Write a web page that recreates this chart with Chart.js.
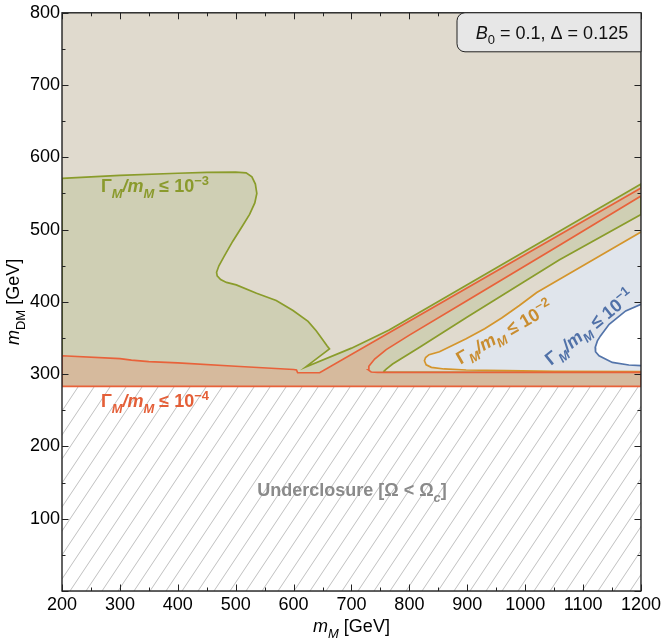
<!DOCTYPE html>
<html>
<head>
<meta charset="utf-8">
<script src="https://cdn.jsdelivr.net/npm/chart.js@4.4.1/dist/chart.umd.min.js"></script>
<style>
  html, body { margin: 0; padding: 0; background: #fff; }
</style>
</head>
<body>
<canvas id="plot" width="664" height="644"></canvas>
<script>
// contours, points are [m_M, m_DM] in GeV
var underclosure = 283;
var redFloor = 302.5;
var redLeft = [[200, 325.5], [300, 321.5], [320, 319.5], [350, 317.5], [400, 315.5], [500, 311], [600, 306.5], [605, 305.8], [607, 302], [645, 302]];
var redOuter = [[645, 302], [765, 357.3], [1200, 557.7]];
var redInner = [[745, 302.5], [734, 303], [729, 306], [730, 311], [740, 321], [760, 334], [800, 354], [900, 402], [1058.6, 478], [1200, 546.6]];
var greenBlob = [[200, 571], [300, 575], [400, 578], [450, 579.3], [500, 579.5], [518, 578.5], [528, 573], [534, 563], [536.5, 550], [533, 537], [524, 521], [510, 503], [495, 484], [480, 463], [471, 450], [467, 441], [468, 436], [474, 431], [484, 427], [501, 423.5], [536, 412], [570, 402], [599, 388], [625, 373], [639, 360], [650, 348], [658, 339], [662, 335]];
var greenOuter = [[621, 310], [700, 336], [765, 361], [1200, 563]];
var greenInner = [[1200, 521], [1058.6, 458], [900, 379], [817, 337], [771, 314], [760, 307], [756, 304], [758, 302.5]];
var orangeUpper = [[826, 318.5], [828, 323], [834, 327], [852, 331], [875, 340], [898, 349], [930, 363], [960, 378], [990, 395], [1020, 413], [1058.6, 431], [1136, 467], [1200, 496.6]];
var orangeLower = [[826, 318.5], [829, 313], [838, 309.5], [860, 307.2], [898, 305.8], [967, 305], [1050, 304], [1200, 303.5]];
var blueCurve = [[1200, 396.8], [1173.6, 387.6], [1145, 369], [1130, 353], [1124.7, 346], [1121, 337], [1121.5, 331], [1127.6, 325.5], [1150.5, 316.3], [1179, 312.7], [1200, 311.7]];

var xTicks = [200, 1200, 100];
var yTicks = [0, 800, 100];

function pts(list) {
  return list.map(function (p) { return {x: p[0], y: p[1]}; });
}
function rev(list) { return list.slice().reverse(); }

var hatchShape = [[200, 0], [200, underclosure], [1200, underclosure], [1200, 0]];
var tanShape = [[200, underclosure], [200, 800], [1200, 800], [1200, underclosure]];
var greenShape = [[200, underclosure]].concat(greenBlob, greenOuter, greenInner, [[1200, redFloor], [1200, underclosure]]);
var redShape = rev(redOuter).concat(rev(redLeft), [[200, underclosure], [1200, underclosure], [1200, redFloor]], redInner);
var orangeShape = rev(orangeUpper).concat(orangeLower.slice(1));
var blueShape = blueCurve;

function hatch() {
  var c = document.createElement('canvas');
  c.width = 16; c.height = 24;
  var g = c.getContext('2d');
  g.fillStyle = '#fff';
  g.fillRect(0, 0, 16, 24);
  g.strokeStyle = '#b0b0b0';
  g.lineWidth = 0.8;
  g.beginPath();
  g.moveTo(0, 24); g.lineTo(16, 0);
  g.moveTo(-2, 3); g.lineTo(2, -3);
  g.moveTo(14, 27); g.lineTo(18, 21);
  g.stroke();
  return g.createPattern(c, 'repeat');
}

var FAM = '"Liberation Sans", Arial, sans-serif';
var FS = 18;

// draw text pieces with italics, sub- and superscripts
function rich(ctx, parts, x, y, size, color, bold, angle) {
  var w = 0, fonts = [];
  parts.forEach(function (p) {
    var st = p[1] || {};
    var s = (st.s || st.p) ? size * 0.72 : size;
    var f = (st.i ? 'italic ' : '') + (bold ? 'bold ' : '') + s + 'px ' + FAM;
    ctx.font = f;
    var pw = ctx.measureText(p[0]).width;
    fonts.push({f: f, w: pw, dy: st.s ? size * 0.28 : (st.p ? -size * 0.42 : 0)});
    w += pw;
  });
  ctx.save();
  ctx.translate(x, y);
  ctx.rotate((angle || 0) * Math.PI / 180);
  ctx.fillStyle = color;
  ctx.textBaseline = 'alphabetic';
  ctx.textAlign = 'left';
  var cx = -w / 2;
  parts.forEach(function (p, k) {
    ctx.font = fonts[k].f;
    ctx.fillText(p[0], cx, size * 0.36 + fonts[k].dy);
    cx += fonts[k].w;
  });
  ctx.restore();
}

function gammaLabel(exp) {
  return [['Γ'], ['M', {i: 1, s: 1}], ['/', {i: 1}], ['m', {i: 1}], ['M', {i: 1, s: 1}], [' ≤ 10'], ['−' + exp, {p: 1}]];
}

var decor = {
  id: 'decor',
  afterDraw: function (chart) {
    var ctx = chart.ctx, a = chart.chartArea, sx = chart.scales.x, sy = chart.scales.y;
    ctx.save();
    ctx.strokeStyle = '#222';
    ctx.lineWidth = 1;
    ctx.beginPath();
    var v, p, len;
    for (v = xTicks[0]; v <= xTicks[1]; v += xTicks[2] / 2) {
      p = Math.round(sx.getPixelForValue(v)) + 0.5;
      len = (v % xTicks[2]) ? 3.5 : 6.5;
      ctx.moveTo(p, a.bottom); ctx.lineTo(p, a.bottom - len);
      ctx.moveTo(p, a.top); ctx.lineTo(p, a.top + len);
    }
    for (v = yTicks[0]; v <= yTicks[1]; v += yTicks[2] / 2) {
      p = Math.round(sy.getPixelForValue(v)) + 0.5;
      len = (v % yTicks[2]) ? 3.5 : 6.5;
      ctx.moveTo(a.left, p); ctx.lineTo(a.left + len, p);
      ctx.moveTo(a.right, p); ctx.lineTo(a.right - len, p);
    }
    ctx.stroke();
    ctx.lineWidth = 1.4;
    ctx.strokeRect(a.left, a.top, a.right - a.left, a.bottom - a.top);

    // parameter box
    var bx = 457, by = a.top, bw = a.right - 457, bh = 39, r = 8;
    ctx.beginPath();
    ctx.moveTo(bx + r, by);
    ctx.lineTo(bx + bw, by);
    ctx.lineTo(bx + bw, by + bh);
    ctx.lineTo(bx + r, by + bh);
    ctx.arcTo(bx, by + bh, bx, by + bh - r, r);
    ctx.lineTo(bx, by + r);
    ctx.arcTo(bx, by, bx + r, by, r);
    ctx.closePath();
    ctx.fillStyle = '#e7e7e7';
    ctx.fill();
    ctx.lineWidth = 1;
    ctx.strokeStyle = '#222';
    ctx.stroke();
    ctx.restore();

    rich(ctx, [['B', {i: 1}], ['0', {s: 1}], [' = 0.1, Δ = 0.125']], 552, by + 20, FS, '#111', false, 0);

    rich(ctx, gammaLabel('3'), 155, 186, FS, '#8a9a2c', true, 0);
    rich(ctx, gammaLabel('4'), 155, 401, FS, '#e45f38', true, 0);
    rich(ctx, gammaLabel('2'), 504, 332, FS, '#c98d30', true, -30);
    rich(ctx, gammaLabel('1'), 589, 327, FS, '#5071a8', true, -39);
    rich(ctx, [['Underclosure [Ω < Ω'], ['c', {i: 1, s: 1}], [']']], 352, 490, FS, '#8a8a8a', true, 0);

    // axis titles
    rich(ctx, [['m', {i: 1}], ['M', {i: 1, s: 1}], [' [GeV]']], (a.left + a.right) / 2, 626, FS, '#000', false, 0);
    rich(ctx, [['m', {i: 1}], ['DM', {s: 1}], [' [GeV]']], 13, (a.top + a.bottom) / 2, FS, '#000', false, -90);
  }
};

function shape(data, fillColor, line, order) {
  return {
    data: pts(data),
    showLine: true,
    fill: 'shape',
    backgroundColor: fillColor,
    borderColor: line || 'rgba(0,0,0,0)',
    borderWidth: line ? 1.7 : 0,
    pointRadius: 0,
    order: order
  };
}

new Chart(document.getElementById('plot'), {
  type: 'scatter',
  data: {
    datasets: [
      shape(hatchShape, hatch(), null, 7),
      shape(tanShape, 'rgb(224,218,206)', null, 6),
      shape(greenShape, 'rgb(207,207,180)', '#8a9c2b', 5),
      shape(orangeShape, 'rgb(224,229,236)', '#d4952c', 4),
      shape(blueShape, '#ffffff', '#5374aa', 3),
      shape(redShape, 'rgb(214,186,157)', '#e8623a', 2)
    ]
  },
  options: {
    responsive: false,
    animation: false,
    layout: { padding: { top: 11, right: 22, left: 0, bottom: 0 } },
    elements: { line: { tension: 0 } },
    plugins: { legend: { display: false }, tooltip: { enabled: false } },
    scales: {
      x: {
        type: 'linear', min: xTicks[0], max: xTicks[1], z: 1,
        ticks: { stepSize: xTicks[2], autoSkip: false, maxRotation: 0, padding: 3, color: '#000', font: { family: FAM, size: FS },
          callback: function (v) { return String(v); } },
        grid: { color: 'rgba(0,0,0,0.1)', drawTicks: false },
        border: { display: false },
        afterFit: function (s) { s.height = 53; }
      },
      y: {
        type: 'linear', min: yTicks[0], max: yTicks[1], z: 1,
        ticks: { stepSize: yTicks[2], autoSkip: false, padding: 2, color: '#000', font: { family: FAM, size: FS },
          callback: function (v) { return v === 0 ? '' : String(v); } },
        grid: { color: 'rgba(0,0,0,0.1)', drawTicks: false },
        border: { display: false },
        afterFit: function (s) { s.width = 62; }
      }
    }
  },
  plugins: [decor]
});
</script>
</body>
</html>
